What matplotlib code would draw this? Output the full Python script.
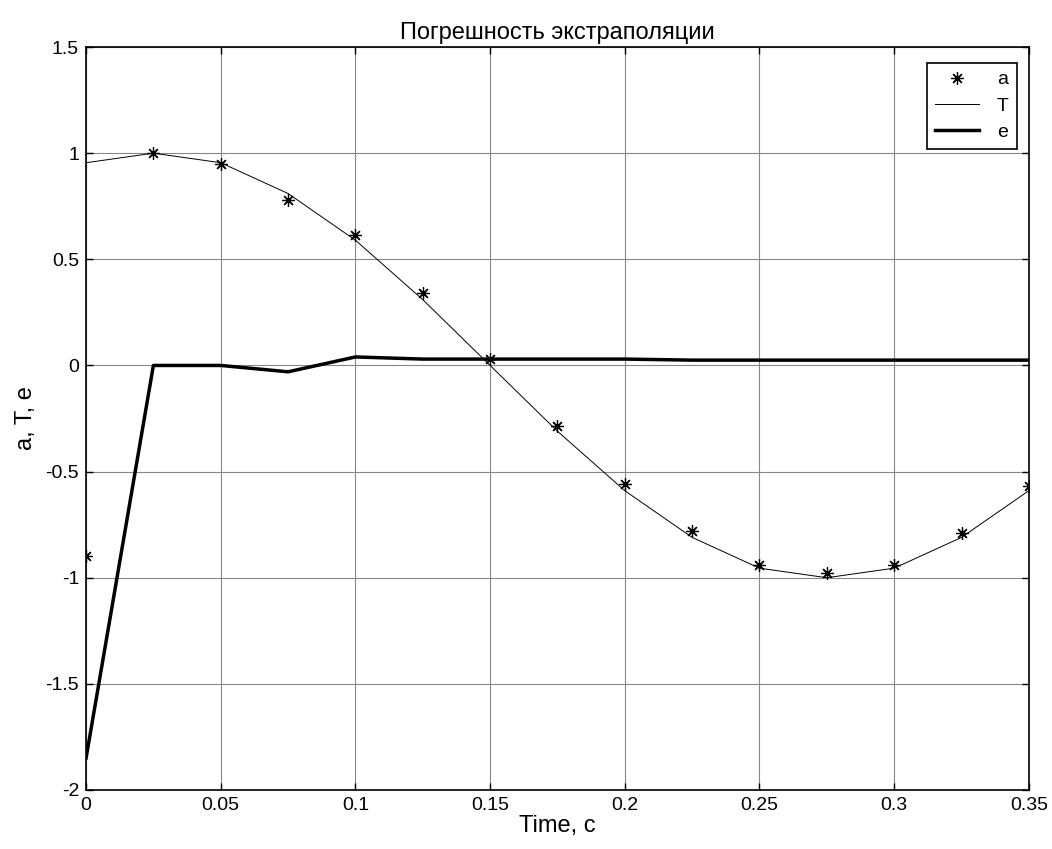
import matplotlib
matplotlib.use("Agg")
import matplotlib.pyplot as plt
import numpy as np

plt.rcParams["font.family"] = ["Liberation Sans", "DejaVu Sans"]

# ── data ────────────────────────────────────────────────────────────────
t = [0, 0.025, 0.05, 0.075, 0.1, 0.125, 0.15, 0.175, 0.2, 0.225, 0.25,
     0.275, 0.3, 0.325, 0.35]
a_vals = [-0.90, 1.00, 0.95, 0.78, 0.615, 0.34, 0.03, -0.285, -0.56,
          -0.78, -0.94, -0.98, -0.94, -0.79, -0.57]
T_vals = [0.955, 1.00, 0.955, 0.81, 0.59, 0.31, 0.0, -0.31, -0.59,
          -0.81, -0.955, -1.0, -0.955, -0.81, -0.59]
e_vals = [-1.85, 0.0, 0.0, -0.03, 0.04, 0.03, 0.03, 0.03, 0.03, 0.025,
          0.025, 0.025, 0.025, 0.025, 0.025]

xticks = [0, 0.05, 0.1, 0.15, 0.2, 0.25, 0.3, 0.35]
xtick_labels = ["0", "0.05", "0.1", "0.15", "0.2", "0.25", "0.3", "0.35"]
yticks = [-2, -1.5, -1, -0.5, 0, 0.5, 1, 1.5]
ytick_labels = ["-2", "-1.5", "-1", "-0.5", "0", "0.5", "1", "1.5"]

fig = plt.figure(figsize=(10.52, 8.49), dpi=100)
ax = fig.add_axes([0.0818, 0.0695, 0.8962, 0.8751])

ax.plot(t, a_vals, linestyle="none", marker=(8, 2, 0), markersize=9,
        markeredgewidth=0.9, color="black", label="a")
ax.plot(t, T_vals, color="black", linewidth=0.7, label="T")
ax.plot(t, e_vals, color="black", linewidth=2.5, label="e")

ax.set_xlim(0, 0.35)
ax.set_ylim(-2, 1.5)
ax.set_xticks(xticks)
ax.set_xticklabels(xtick_labels)
ax.set_yticks(yticks)
ax.set_yticklabels(ytick_labels)

ax.grid(True, color="#888888", linewidth=0.8, linestyle="-")
ax.tick_params(direction="in", top=True, right=True, length=5, width=1,
               labelsize=14, pad=5)
for sp in ax.spines.values():
    sp.set_linewidth(1.2)

ax.set_title("Погрешность экстраполяции", fontsize=17, pad=6)
ax.set_xlabel("Time, c", fontsize=17, labelpad=1)
ax.set_ylabel("a, T, e", fontsize=17, labelpad=6)

leg = ax.legend(loc="upper right", bbox_to_anchor=(0.987, 0.9785),
                borderaxespad=0, fontsize=14, fancybox=False,
                framealpha=1, edgecolor="black", markerfirst=True,
                handlelength=2.3, handletextpad=0.9, borderpad=0.4,
                labelspacing=0.45)
leg.get_frame().set_linewidth(1.2)

fig.savefig("out.png", dpi=100)
